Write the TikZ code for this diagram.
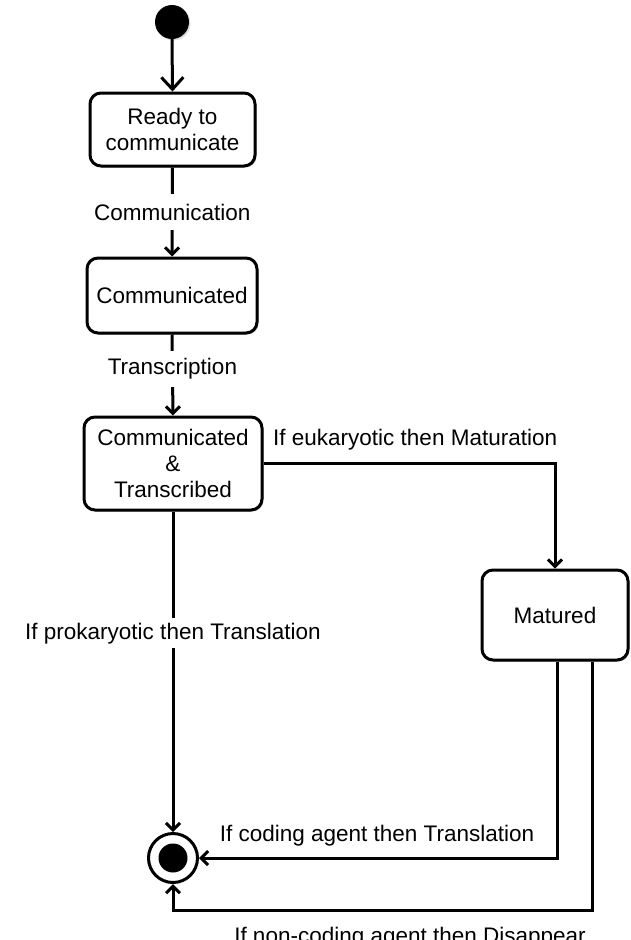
\documentclass[tikz,border=0pt]{standalone}
\usepackage{fontspec}
\setmainfont{Liberation Sans}
\usetikzlibrary{arrows.meta,shadows,calc}
\begin{document}
\begin{tikzpicture}[x=1pt,y=-1pt,
  font=\fontsize{22.5}{26}\selectfont,
  every node/.style={inner sep=0pt},
  state/.style={draw, line width=3pt, rounded corners=11pt, fill=white, align=center,
    drop shadow={shadow xshift=1.5pt, shadow yshift=-1.5pt, opacity=0.25, fill=black}},
  flow/.style={line width=3pt, -{Straight Barb[length=7pt,width=14pt]}},
  lbl/.style={fill=white, inner xsep=2pt, minimum height=36pt}]
\useasboundingbox (0,0) rectangle (630,940);

% pseudo-states
\node (start) [circle, fill=black, minimum size=34pt,
  drop shadow={shadow xshift=1.5pt, shadow yshift=-1.5pt, opacity=0.25}] at (172,22) {};
\node (end) [circle, draw, line width=3pt, minimum size=49pt, fill=white] at (173,858) {};
\fill (end.center) circle (14.5pt);

% states
\node (ready) [state, minimum width=165pt, minimum height=73pt] at (172.5,129.5) {Ready to\\communicate};
\node (comm)  [state, minimum width=170pt, minimum height=75pt] at (172,295.5) {Communicated};
\node (trans) [state, minimum width=178pt, minimum height=93pt] at (173,463.5) {Communicated\\\&\\Transcribed};
\node (mat)   [state, minimum width=146pt, minimum height=90pt] at (555,615) {Matured};

% transitions
\draw[line width=3pt, -{Straight Barb[length=12pt,width=22pt]}] (start.south) -- (ready.north);
\draw[flow] (ready.south) -- node[lbl, pos=0.5] {Communication} (comm.north);
\draw[flow] (comm.south) -- node[lbl, pos=0.42] {Transcription} (trans.north);
\draw[flow] (trans.east |- 0,463) -| (mat.north);
\node (eu) [anchor=west] at (273,440) {If eukaryotic then Maturation};
\draw[flow] (trans.south) -- node[lbl, pos=0.38, minimum height=30pt] {If prokaryotic then Translation} (end.north);
\draw[flow] ([xshift=2pt]mat.south) |- (end.east);
\node (coding) at (377,836) {If coding agent then Translation};
\draw[flow] ([xshift=37pt]mat.south) -- ([xshift=37pt]mat.south |- 0,910) -| (end.south);
\node (noncoding) at (410,938) {If non-coding agent then Disappear};
\end{tikzpicture}
\end{document}
